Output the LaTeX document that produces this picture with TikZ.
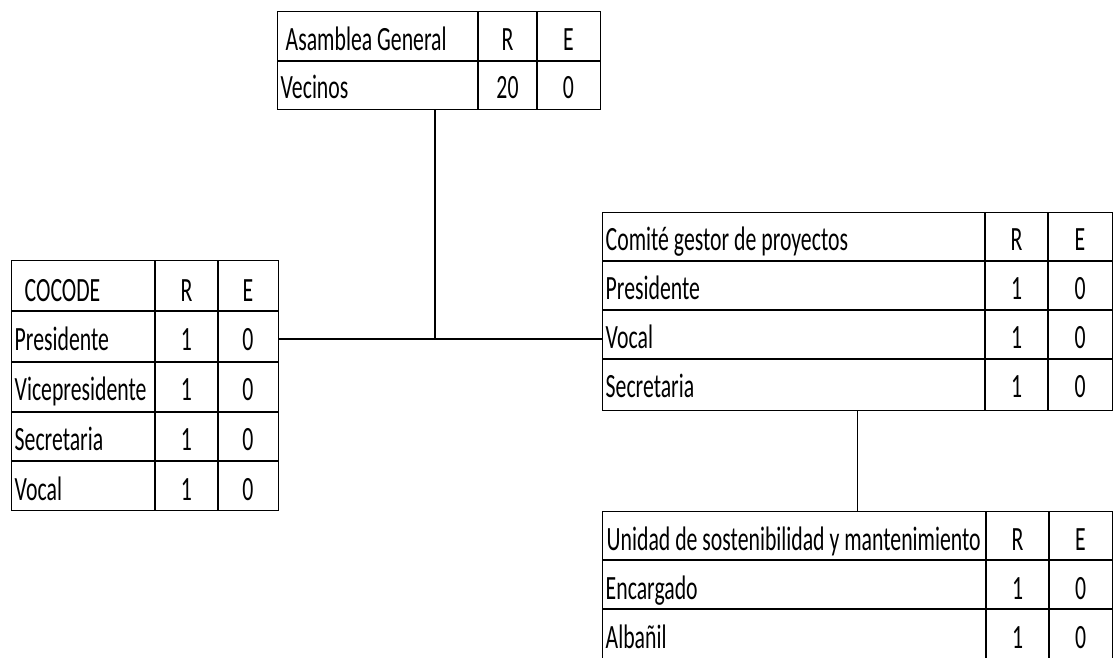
\documentclass[tikz,border=0pt]{standalone}
\usepackage{fontspec}
\setmainfont[FakeStretch=0.64]{Carlito}
\begin{document}
\begin{tikzpicture}[x=1pt,y=-1pt,line width=1.4pt,
  box/.style={draw,rectangle,inner sep=0pt,anchor=north west},
  lbl/.style={anchor=base west,inner sep=0pt,font=\fontsize{34}{36}\selectfont},
  num/.style={anchor=base,inner sep=0pt,font=\fontsize{34}{36}\selectfont},
  conn/.style={draw,line width=1.4pt}]
\useasboundingbox (0,0) rectangle (1113,657);
% ---- Asamblea General
\node[box,minimum width=323pt,minimum height=98pt] (asm) at (277,11) {};
\draw (277,61) -- (600,61);
\draw (478,11) -- (478,109);
\draw (537,11) -- (537,109);
\node[lbl] (asmh) at (285,50) {Asamblea General};
\node[num] (asmr) at (507.5,50) {R};
\node[num] (asme) at (568.5,50) {E};
\node[lbl] (asm1) at (280,98.5) {Vecinos};
\node[num] (asm1r) at (507.5,98.5) {20};
\node[num] (asm1e) at (568.5,98.5) {0};
% ---- COCODE
\node[box,minimum width=267pt,minimum height=250pt] (coc) at (11,260) {};
\foreach \y in {311,362,412,461} \draw (11,\y) -- (278,\y);
\draw (155,260) -- (155,510);
\draw (218,260) -- (218,510);
\node[lbl] (coch) at (24,301) {COCODE};
\node[num] (cocr) at (186.5,301) {R};
\node[num] (coce) at (248,301) {E};
\foreach \t [count=\i] in {Presidente,Vicepresidente,Secretaria,Vocal}{
  \node[lbl] (coc\i) at (14,{300.5+50*\i}) {\t};
  \node[num] (coc\i r) at (186.5,{300.5+50*\i}) {1};
  \node[num] (coc\i e) at (248,{300.5+50*\i}) {0};
}
% ---- Comite gestor
\node[box,minimum width=510pt,minimum height=198pt] (ges) at (602,212) {};
\foreach \y in {261,310,359} \draw (602,\y) -- (1112,\y);
\draw (985,212) -- (985,410);
\draw (1048,212) -- (1048,410);
\node[lbl] (gesh) at (605,250.5) {Comité gestor de proyectos};
\node[num] (gesr) at (1016.5,250.5) {R};
\node[num] (gese) at (1080,250.5) {E};
\foreach \t [count=\i] in {Presidente,Vocal,Secretaria}{
  \node[lbl] (ges\i) at (605,{250+49.3*\i}) {\t};
  \node[num] (ges\i r) at (1016.5,{250+49.3*\i}) {1};
  \node[num] (ges\i e) at (1080,{250+49.3*\i}) {0};
}
% ---- Unidad
\node[box,minimum width=510pt,minimum height=147pt] (uni) at (602,511) {};
\foreach \y in {560,609} \draw (602,\y) -- (1112,\y);
\draw (986,511) -- (986,658);
\draw (1049,511) -- (1049,658);
\node[lbl] (unih) at (606,550) {Unidad de sostenibilidad y mantenimiento};
\node[num] (unir) at (1017.5,550) {R};
\node[num] (unie) at (1080.5,550) {E};
\foreach \t [count=\i] in {Encargado,Albañil}{
  \node[lbl] (uni\i) at (605,{550+49*\i}) {\t};
  \node[num] (uni\i r) at (1017.5,{550+49*\i}) {1};
  \node[num] (uni\i e) at (1080.5,{550+49*\i}) {0};
}
% ---- connectors
\coordinate (j) at (435,339);
\draw[conn] (j |- asm.south) -- (j);
\draw[conn] (coc.east |- j) -- (ges.west |- j);
\draw[conn] (ges.south) -- (uni.north);
\end{tikzpicture}
\end{document}
